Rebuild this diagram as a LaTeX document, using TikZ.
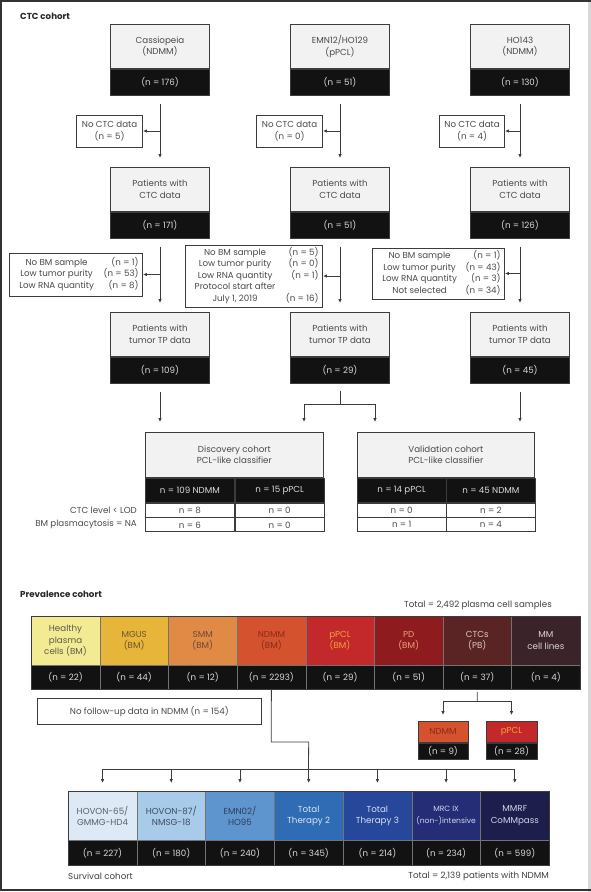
\documentclass[tikz,border=0pt]{standalone}
\usepackage{fontspec}
\setmainfont{Poppins}
\usepackage{array}
\usetikzlibrary{arrows.meta}
\definecolor{boxfill}{HTML}{F2F2F2}
\definecolor{edge}{HTML}{3C3C3C}
\definecolor{band}{HTML}{121212}
\definecolor{txt}{HTML}{4A4A4A}
\definecolor{bandtxt}{HTML}{DADADA}
\definecolor{p1}{HTML}{F3EB93}\definecolor{p1t}{HTML}{5A5A4A}
\definecolor{p2}{HTML}{E7B53A}\definecolor{p2t}{HTML}{6B5530}
\definecolor{p3}{HTML}{E08A45}\definecolor{p3t}{HTML}{6B4A38}
\definecolor{p4}{HTML}{D4532E}\definecolor{p4t}{HTML}{8A2A1A}
\definecolor{p5}{HTML}{C3292B}\definecolor{p5t}{HTML}{F2A13A}
\definecolor{p6}{HTML}{8E1C1F}\definecolor{p6t}{HTML}{EE9E7A}
\definecolor{p7}{HTML}{5B2424}\definecolor{p7t}{HTML}{DCC6C6}
\definecolor{p8}{HTML}{3A2329}\definecolor{p8t}{HTML}{DCD4D8}
\definecolor{s1}{HTML}{DDEAF6}\definecolor{s1t}{HTML}{5A6070}
\definecolor{s2}{HTML}{A8CBEA}\definecolor{s2t}{HTML}{3E4A60}
\definecolor{s3}{HTML}{5E95CF}\definecolor{s3t}{HTML}{2E3E5A}
\definecolor{s4}{HTML}{2F6CB3}\definecolor{s4t}{HTML}{D8E6F6}
\definecolor{s5}{HTML}{26479A}\definecolor{s5t}{HTML}{D8E0F2}
\definecolor{s6}{HTML}{252D76}\definecolor{s6t}{HTML}{D0D6EE}
\definecolor{s7}{HTML}{1D1E4C}\definecolor{s7t}{HTML}{D0D4EA}
\begin{document}
\begin{tikzpicture}[x=1pt,y=-1pt,
  font=\fontsize{8.7}{11.4}\selectfont,
  topbox/.style={draw=edge, fill=boxfill, line width=0.8pt, minimum width=99pt, minimum height=44pt, inner sep=1pt, align=center, text=txt, anchor=north},
  nbox/.style={draw=edge, fill=band, line width=0.8pt, minimum width=99pt, minimum height=26pt, inner sep=1pt, text=bandtxt, anchor=north},
  exbox/.style={draw=edge, fill=white, line width=0.8pt, inner sep=2pt, align=center, text=txt},
  hd/.style={draw=edge, fill=band, line width=0.8pt, minimum height=24pt, inner sep=1pt, text=bandtxt, anchor=north west},
  cell/.style={draw=edge, fill=white, line width=0.8pt, minimum height=14pt, inner sep=0pt, text=txt, anchor=north west},
  pcell/.style={draw=black!55, line width=0.4pt, minimum width=68.625pt, minimum height=49pt, inner sep=0pt, align=center},
  pband/.style={draw=black!55, fill=band, line width=0.4pt, minimum width=68.625pt, minimum height=24pt, inner sep=0pt, text=bandtxt, anchor=north},
  scell/.style={draw=black!55, line width=0.4pt, minimum width=68.71pt, minimum height=49pt, inner sep=0pt, align=center},
  sband/.style={draw=black!55, fill=band, line width=0.4pt, minimum width=68.71pt, minimum height=25pt, inner sep=0pt, text=bandtxt, anchor=north},
  arr/.style={draw=edge, line width=0.8pt, -{Latex[length=3.8pt,width=3.4pt]}},
  conn/.style={draw=edge, line width=0.8pt},
  lbl/.style={text=txt, inner sep=0pt},
  bold/.style={text=black!85, inner sep=0pt, font=\fontsize{8.7}{11.4}\selectfont\bfseries}
]
\useasboundingbox (0,0) rectangle (591,892);
% frame
\fill[black!15] (588,0) rectangle (591,892);
\draw[line width=2pt, draw=black!80] (591,1) -- (1,1) -- (1,890) -- (591,890);

\node[bold, anchor=west] (ctclbl) at (20,16) {CTC cohort};

% row 1
\node[topbox] (a1) at (160,24) {Cassiopeia\\(NDMM)};
\node[nbox] (a1n) at (a1.south) {(n = 176)};
\node[topbox] (a2) at (340,24) {EMN12/HO129\\(pPCL)};
\node[nbox] (a2n) at (a2.south) {(n = 51)};
\node[topbox] (a3) at (520,24) {HO143\\(NDMM)};
\node[nbox] (a3n) at (a3.south) {(n = 130)};

% row 2
\node[topbox] (b1) at (160,167) {Patients with\\CTC data};
\node[nbox] (b1n) at (b1.south) {(n = 171)};
\node[topbox] (b2) at (340,167) {Patients with\\CTC data};
\node[nbox] (b2n) at (b2.south) {(n = 51)};
\node[topbox] (b3) at (520,167) {Patients with\\CTC data};
\node[nbox] (b3n) at (b3.south) {(n = 126)};

% row 3
\node[topbox] (c1) at (160,312) {Patients with\\tumor TP data};
\node[nbox] (c1n) at (c1.south) {(n = 109)};
\node[topbox] (c2) at (340,312) {Patients with\\tumor TP data};
\node[nbox] (c2n) at (c2.south) {(n = 29)};
\node[topbox] (c3) at (520,312) {Patients with\\tumor TP data};
\node[nbox] (c3n) at (c3.south) {(n = 45)};

% exclusions row 1
\node[exbox, minimum width=66pt, minimum height=32pt, anchor=east] (e1) at (143,131) {No CTC data\\(n = 5)};
\node[exbox, minimum width=66pt, minimum height=32pt, anchor=east] (e2) at (323,131) {No CTC data\\(n = 0)};
\node[exbox, minimum width=65pt, minimum height=32pt, anchor=east] (e3) at (505,131) {No CTC data\\(n = 4)};

% exclusions row 2
\node[exbox, minimum width=133pt, minimum height=43pt, anchor=east] (f1) at (143,274.5)
 {\begin{tabular}{@{}w{c}{86pt}@{}w{r}{39pt}@{}}No BM sample & (n = 1)\\ Low tumor purity & (n = 53)\\ Low RNA quantity & (n = 8)\end{tabular}};
\node[exbox, minimum width=137pt, minimum height=62pt, anchor=east] (f2) at (323,276)
 {\begin{tabular}{@{}w{c}{91pt}@{}w{r}{38pt}@{}}No BM sample & (n = 5)\\ Low tumor purity & (n = 0)\\ Low RNA quantity & (n = 1)\\ Protocol start after & \\ July 1, 2019 & (n = 16)\end{tabular}};
\node[exbox, minimum width=132pt, minimum height=51pt, anchor=east] (f3) at (505,273.5)
 {\begin{tabular}{@{}w{c}{86pt}@{}w{r}{38pt}@{}}No BM sample & (n = 1)\\ Low tumor purity & (n = 43)\\ Low RNA quantity & (n = 3)\\ Not selected & (n = 34)\end{tabular}};

% vertical arrows
\foreach \u/\v in {a1n/b1,a2n/b2,a3n/b3,b1n/c1,b2n/c2,b3n/c3}
  \draw[arr, shorten <=8pt, shorten >=9pt] (\u.south) -- (\v.north);
\foreach \u/\v in {a1n/e1,a2n/e2,a3n/e3,b1n/f1,b2n/f2,b3n/f3}
  \draw[arr] (\v.east -| \u.south) -- (\v.east);

% discovery table
\node[draw=edge, fill=boxfill, line width=0.8pt, minimum width=178pt, minimum height=45pt, inner sep=1pt, align=center, text=txt, anchor=north west] (disc) at (145,432) {Discovery cohort\\PCL-like classifier};
\node[hd, minimum width=89pt] (d01) at (disc.south west) {n = 109 NDMM};
\node[hd, minimum width=89pt] (d02) at (d01.north east) {n = 15 pPCL};
\node[cell, minimum width=89pt] (d11) at (d01.south west) {n = 8};
\node[cell, minimum width=89pt] (d12) at (d11.north east) {n = 0};
\node[cell, minimum width=89pt] (d21) at (d11.south west) {n = 6};
\node[cell, minimum width=89pt] (d22) at (d21.north east) {n = 0};

% validation table
\node[draw=edge, fill=boxfill, line width=0.8pt, minimum width=177pt, minimum height=45pt, inner sep=1pt, align=center, text=txt, anchor=north west] (vali) at (357,432) {Validation cohort\\PCL-like classifier};
\node[hd, minimum width=88.5pt] (v01) at (vali.south west) {n = 14 pPCL};
\node[hd, minimum width=88.5pt] (v02) at (v01.north east) {n = 45 NDMM};
\node[cell, minimum width=88.5pt] (v11) at (v01.south west) {n = 0};
\node[cell, minimum width=88.5pt] (v12) at (v11.north east) {n = 2};
\node[cell, minimum width=88.5pt] (v21) at (v11.south west) {n = 1};
\node[cell, minimum width=88.5pt] (v22) at (v21.north east) {n = 4};

\node[lbl, anchor=east] (rl1) at ([xshift=-8pt]d11.west) {CTC level < LOD};
\node[lbl, anchor=east] (rl2) at ([xshift=-8pt]d21.west) {BM plasmacytosis = NA};

% arrows to tables
\coordinate (tl) at (160,432);
\coordinate (tm) at (340,404);
\coordinate (tml) at (304,432);
\coordinate (tmr) at (375,432);
\coordinate (tr) at (520,432);
\draw[arr, shorten <=8pt, shorten >=10pt] (c1n.south) -- (tl);
\draw[arr, shorten <=8pt, shorten >=10pt] (c3n.south) -- (tr);
\draw[conn, shorten <=7pt] (c2n.south) -- (tm);
\draw[arr, shorten >=10pt] (tm) -| (tml);
\draw[arr, shorten >=10pt] (tm) -| (tmr);

% prevalence cohort
\node[bold, anchor=west] (prevlbl) at (20,594) {Prevalence cohort};
\node[lbl, anchor=east, text=black!75] (tot1) at (552,605) {Total = 2,492 plasma cell samples};

\foreach \i/\t/\n in {1/{Healthy\\plasma\\cells (BM)}/22, 2/{MGUS\\(BM)}/44, 3/{SMM\\(BM)}/12, 4/{NDMM\\(BM)}/2293, 5/{pPCL\\(BM)}/29, 6/{PD\\(BM)}/51, 7/{CTCs\\(PB)}/37, 8/{MM\\cell lines}/4}{
  \node[pcell, fill=p\i, text=p\i t, anchor=north west] (p\i) at ({31+(\i-1)*68.625},616) {\t};
  \node[pband] (pn\i) at (p\i.south) {(n = \n)};
}
\draw[line width=1pt, draw=edge] (p1.north west) rectangle (pn8.south east);

\node[exbox, minimum width=224pt, minimum height=26pt, anchor=north west] (nf) at (37,698) {No follow-up data in NDMM (n = 154)};

% CTC split
\node[pcell, fill=p4, text=p4t, minimum width=50pt, minimum height=21pt, anchor=north, draw=edge, line width=0.8pt] (sn) at (443,721) {NDMM};
\node[pband, minimum width=50pt, minimum height=16pt, draw=edge, line width=0.8pt] (snn) at (sn.south) {(n = 9)};
\node[pcell, fill=p5, text=p5t, minimum width=51pt, minimum height=21pt, anchor=north, draw=edge, line width=0.8pt] (sp) at (511.5,721) {pPCL};
\node[pband, minimum width=51pt, minimum height=16pt, draw=edge, line width=0.8pt] (spn) at (sp.south) {(n = 28)};
\coordinate (cs) at (477.3,701);
\draw[conn, shorten <=2pt] (pn7.south) -- (cs);
\draw[arr, shorten >=6pt] (cs) -| (sn.north);
\draw[arr, shorten >=6pt] (cs) -| (sp.north);

% survival cohort
\foreach \i/\t/\n/\fs in {1/{HOVON-65/\\GMMG-HD4}/227/8.7, 2/{HOVON-87/\\NMSG-18}/180/8.7, 3/{EMN02/\\HO95}/240/8.7, 4/{Total\\Therapy 2}/345/8.7, 5/{Total\\Therapy 3}/214/8.7, 6/{MRC IX\\(non-)intensive}/234/7.6, 7/{MMRF\\CoMMpass}/599/8.7}{
  \node[scell, fill=s\i, text=s\i t, anchor=north west, font=\fontsize{\fs}{11.4}\selectfont] (s\i) at ({68+(\i-1)*68.71},791) {\t};
  \node[sband] (sn\i) at (s\i.south) {(n = \n)};
}
\draw[line width=1pt, draw=edge] (s1.north west) rectangle (sn7.south east);

\coordinate (t1) at (271.2,742);
\coordinate (hub) at (308.5,769);
\draw[conn] (pn4.south) -- (t1) -- (t1 -| s4.north) -- (hub);
\draw[conn] (hub -| s1.north) -- (hub -| s7.north);
\foreach \i in {1,...,7}
  \draw[arr, shorten >=8pt] (hub -| s\i.north) -- (s\i.north);

\node[lbl, anchor=west, text=black!75] (survlbl) at (68,876) {Survival cohort};
\node[lbl, anchor=east, text=black!75] (tot2) at (549,876) {Total = 2,139 patients with NDMM};
\end{tikzpicture}
\end{document}
